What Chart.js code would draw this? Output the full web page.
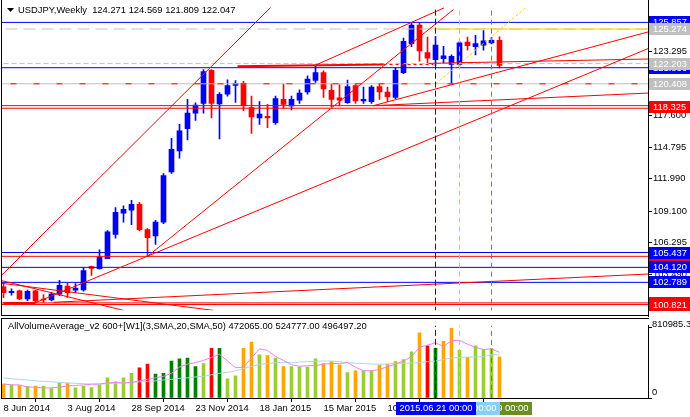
<!DOCTYPE html>
<html>
<head>
<meta charset="utf-8">
<title>USDJPY Weekly</title>
<script src="https://cdn.jsdelivr.net/npm/chart.js@4.4.1/dist/chart.umd.min.js"></script>
<style>
  html, body { margin: 0; padding: 0; background: #fff; overflow: hidden; }
  canvas { position: absolute; left: 0; display: block; }
  #mainChart { top: 0; }
  #volChart { top: 317px; }
</style>
</head>
<body>
<canvas id="mainChart" width="690" height="317"></canvas>
<canvas id="volChart" width="690" height="100"></canvas>
<script>
// weekly bars, index 0 = 8 Jun 2014 ... index 62 = 16 Aug 2015
const opens = [102.39, 101.88, 102.03, 101.31, 102.03, 101.31, 101.22, 101.74, 102.46, 102.09,
    102.12, 104.18, 104.00, 104.89, 107.05, 108.92, 109.20, 109.72, 107.47, 106.90,
    108.14, 112.59, 114.45, 116.43, 117.81, 118.67, 121.60, 118.62, 119.48, 120.26,
    120.45, 118.30, 117.38, 117.53, 116.95, 119.02, 118.45, 118.96, 119.68, 120.70,
    121.40, 119.82, 119.16, 118.73, 120.26, 118.90, 118.82, 120.17, 119.68, 119.19,
    121.40, 123.98, 125.62, 123.18, 122.55, 122.63, 122.12, 122.12, 124.10, 123.70,
    123.84, 124.04, 124.271];
const highs = [102.72, 102.22, 102.11, 102.11, 102.09, 101.71, 101.88, 102.97, 102.72, 102.69,
    104.10, 104.24, 105.67, 107.39, 109.43, 109.58, 110.06, 109.90, 107.56, 108.29,
    112.45, 115.57, 116.81, 119.02, 118.73, 121.68, 121.68, 119.62, 120.77, 120.69,
    120.62, 119.31, 118.82, 118.58, 119.31, 120.39, 119.31, 119.88, 121.12, 122.06,
    121.55, 120.39, 120.34, 120.74, 120.45, 120.11, 120.26, 120.39, 120.11, 121.83,
    124.47, 125.85, 125.79, 124.56, 124.59, 123.73, 122.98, 124.18, 124.56, 124.70,
    125.13, 124.50, 124.569];
const lows = [101.42, 101.66, 101.25, 101.16, 101.02, 100.99, 101.14, 101.60, 101.45, 101.88,
    102.00, 103.40, 103.95, 104.89, 106.70, 108.14, 107.90, 107.35, 105.10, 106.16,
    108.00, 112.45, 113.80, 115.43, 117.16, 117.81, 117.38, 115.52, 119.31, 118.76,
    118.02, 116.00, 116.81, 116.52, 116.81, 118.24, 118.10, 118.67, 119.48, 120.54,
    119.19, 118.39, 118.45, 118.67, 118.67, 118.67, 118.67, 119.02, 118.82, 119.10,
    121.30, 123.70, 122.41, 122.26, 122.00, 122.26, 120.39, 122.00, 123.40, 122.98,
    123.40, 123.95, 121.809];
const closes = [101.88, 102.00, 101.31, 102.00, 101.14, 101.22, 101.74, 102.52, 101.88, 102.28,
    103.84, 104.03, 105.04, 107.28, 109.00, 109.26, 109.72, 107.47, 106.76, 108.14,
    112.27, 114.60, 116.23, 117.81, 118.53, 121.49, 118.67, 119.48, 120.26, 120.45,
    118.47, 117.47, 117.72, 117.38, 119.10, 118.58, 119.02, 119.59, 120.82, 121.40,
    119.96, 119.02, 118.96, 120.17, 118.88, 119.02, 120.11, 119.68, 119.25, 121.60,
    124.18, 125.62, 123.32, 122.69, 123.84, 122.89, 122.84, 124.04, 123.79, 123.98,
    124.22, 124.27, 122.047];

// volume panel
const volumes = [161000, 151000, 144000, 133000, 137000, 137000, 109000, 172000, 172000, 116000,
    137000, 119000, 151000, 232000, 186000, 232000, 284000, 348000, 390000, 274000,
    284000, 424000, 449000, 460000, 361000, 397000, 572000, 572000, 221000, 256000,
    572000, 642000, 495000, 488000, 460000, 361000, 361000, 355000, 355000, 449000,
    397000, 418000, 380000, 292000, 313000, 313000, 313000, 379000, 390000, 418000,
    442000, 530000, 748000, 600000, 572000, 653000, 800000, 548000, 467000, 600000,
    558000, 572000, 472065];
// o = down, g = up, r = high volume down, d = high volume up
const volKinds = ['o','g','o','g','o','g','g','g','o','g', 'g','g','g','g','g','g','g','r','r','d',
    'd','d','d','d','d','g','r','d','g','g', 'o','o','g','o','g','o','g','g','g','g',
    'o','o','o','g','o','g','g','o','o','g', 'g','g','o','r','d','o','o','g','o','g',
    'g','g','o'];
const maFast = [161000, 151000, 151000, 126000, 123000, 116000, 116000, 126000, 137000, 144000,
    151000, 158000, 161000, 172000, 179000, 172000, 179000, 197000, 214000, 232000,
    249000, 284000, 355000, 390000, 407000, 432000, 467000, 502000, 425000, 348000,
    355000, 460000, 565000, 548000, 477000, 432000, 382000, 365000, 372000, 372000,
    390000, 397000, 397000, 407000, 355000, 313000, 313000, 327000, 361000, 390000,
    425000, 477000, 583000, 608000, 635000, 593000, 660000, 663000, 618000, 583000,
    558000, 565000, 524777];
const maSlow = [232000, 221000, 214000, 207000, 197000, 190000, 186000, 179000, 172000, 169000,
    165000, 161000, 161000, 165000, 172000, 172000, 179000, 186000, 190000, 197000,
    207000, 214000, 225000, 232000, 242000, 249000, 267000, 284000, 295000, 313000,
    337000, 365000, 383000, 397000, 407000, 407000, 407000, 414000, 418000, 425000,
    425000, 425000, 418000, 407000, 400000, 397000, 390000, 390000, 390000, 397000,
    400000, 400000, 407000, 418000, 425000, 442000, 460000, 467000, 470000, 470000,
    477000, 495000, 496497];

// axis ticks
const priceTicks = [123.295, 117.600, 114.795, 111.990, 109.100, 106.295, 103.490];
const dateTickIdx = [0, 8, 16, 24, 32, 40, 48, 56];
const dateTickLabels = ['8 Jun 2014', '3 Aug 2014', '28 Sep 2014', '23 Nov 2014',
    '18 Jan 2015', '15 Mar 2015', '10 May 2015', '5 Jul 2015'];

// chart objects: horizontal levels (price) and trend lines [week, price, week, price]
const blueLevels = [125.857, 121.836, 105.437, 104.120, 102.789];
const redLevels = [118.47, 118.24, 105.100, 100.966, 100.821];
const greyDashLevels = [125.274, 122.203];
const greyLevel = 120.408;
const trendLines = [
    [-0.375, 103.32, 33.375, 127.17],
    [4, 100.99, 80.625, 123.55],
    [18, 105.10, 56.25, 127.00],
    [39, 122.06, 55.04, 127.14],
    [46.25, 118.47, 80.625, 119.59],
    [46.25, 118.47, 80.625, 125.02],
    [53.125, 122.22, 80.625, 122.61],
    [-0.375, 102.97, 15, 100.30],
    [-0.375, 102.72, 26.25, 100.30],
    [6.25, 101.02, 80.625, 103.53]
];
const boldRedLines = [[29.25, 121.96, 47.5, 122.12], [0, 100.95, 4, 100.95]];
const dashRedLine = [47.5, 122.12, 53.75, 122.12];
const goldLevel = [53.75, 125.274, 83, 125.274];
const goldRay = [54, 120.40, 65.25, 127.14];
const markerWeeks = [54, 57, 61];
const markerLabels = ['2015.06.21 00:00', '2015.07.12 00:00', '2015.08.09 00:00'];

// right axis price boxes
const redBoxPrices = [105.100, 100.966, 100.821, 118.325];
const blueBoxPrices = [121.836, 125.857, 105.437, 104.120, 102.789];
const greyBoxPrices = [125.274, 122.203, 120.408];

const titleText = 'USDJPY,Weekly  124.271 124.569 121.809 122.047';
const volTitle = 'AllVolumeAverage_v2 600+[W1](3,SMA,20,SMA,50) 472065.00 524777.00 496497.20';
const volMaxLabel = '810985.30';

const FAMILY = '"Liberation Sans", Arial, sans-serif';
const FSIZE = 9.4;
Chart.defaults.font.family = FAMILY;
Chart.defaults.font.size = FSIZE;
Chart.defaults.color = '#000';

const X_MIN = -0.1875, X_MAX = 80.5625;
const P_MIN = 100.304, P_MAX = 127.256;
const V_MAX = 832000;

const BLUE = '#0000FF', RED = '#FF0000', GREY = '#C0C0C0', GOLD = '#FFCC00';
const volColorMap = { o: '#FFA500', g: '#9ACD32', r: '#FF0000', d: '#008000' };
const markerColors = [BLUE, '#87CEFA', '#6B8E23'];

function seg(a, color, width, dash, order) {
    return {
        type: 'line',
        data: [{ x: a[0], y: a[1] }, { x: a[2], y: a[3] }],
        borderColor: color,
        borderWidth: width || 1,
        borderDash: dash || [],
        pointRadius: 0,
        fill: false,
        order: order
    };
}
function hline(p, color, dash, order) {
    return seg([-2, p, 83, p], color, 1, dash, order);
}

const isUp = closes.map((c, i) => c >= opens[i]);
const candleColor = ctx => isUp[ctx.dataIndex] ? BLUE : RED;

const mainDatasets = [
    {
        type: 'bar',
        data: opens.map((o, i) => ({ x: i, y: [lows[i], highs[i]] })),
        backgroundColor: candleColor,
        barThickness: 1,
        grouped: false,
        order: 100
    },
    {
        type: 'bar',
        data: opens.map((o, i) => ({ x: i, y: [o, closes[i]] })),
        backgroundColor: candleColor,
        barThickness: 5,
        minBarLength: 1,
        grouped: false,
        order: 99
    },
    ...greyDashLevels.map((p, k) => hline(p, GREY, k === 0 ? [12, 6] : [5, 3], 60)),
    hline(greyLevel, GREY, [], 60),
    hline(greyLevel, RED, [6, 17], 55),
    ...blueLevels.map(p => hline(p, BLUE, [], 50)),
    ...redLevels.map(p => hline(p, RED, [], 50)),
    ...trendLines.map(t => seg(t, RED, 1, [], 40)),
    ...boldRedLines.map(t => seg(t, RED, 2, [], 40)),
    seg(dashRedLine, RED, 1, [3, 3], 40),
    seg(goldLevel, GOLD, 1, [], 20),
    seg(goldRay, GOLD, 1, [3, 2], 20),
    ...markerWeeks.map((w, k) => seg([w, P_MIN - 1, w, P_MAX + 1], markerColors[k], 1, k === 0 ? [6, 3] : [5, 4], 10))
];

const mainOverlay = {
    id: 'mainOverlay',
    afterDraw(chart) {
        const ctx = chart.ctx;
        const ys = chart.scales.y;
        ctx.save();
        ctx.fillStyle = '#000';
        ctx.fillRect(1, 0, 1, 316);
        ctx.fillRect(1, 315, 648, 1);
        ctx.fillRect(648, 0, 1, 317);

        ctx.font = FSIZE + 'px ' + FAMILY;
        ctx.textAlign = 'left';
        ctx.textBaseline = 'middle';
        ctx.fillText(titleText, 18, 10.5);
        ctx.beginPath();
        ctx.moveTo(7, 8);
        ctx.lineTo(14, 8);
        ctx.lineTo(10.5, 12);
        ctx.closePath();
        ctx.fill();

        const box = (p, bg) => {
            const py = Math.round(ys.getPixelForValue(p));
            ctx.fillStyle = bg;
            ctx.fillRect(649, py - 6, 41, 12);
            ctx.fillStyle = '#fff';
            ctx.fillText(p.toFixed(3), 653, py + 0.5);
        };
        redBoxPrices.forEach(p => box(p, RED));
        blueBoxPrices.forEach(p => box(p, BLUE));
        greyBoxPrices.forEach(p => box(p, GREY));
        ctx.restore();
    }
};

new Chart(document.getElementById('mainChart'), {
    type: 'bar',
    data: { datasets: mainDatasets },
    options: {
        responsive: false,
        animation: false,
        events: [],
        layout: { padding: { left: 2, top: 2, right: 0, bottom: 2 } },
        plugins: { legend: { display: false }, tooltip: { enabled: false } },
        scales: {
            x: { type: 'linear', min: X_MIN, max: X_MAX, offset: false, display: false },
            y: {
                position: 'right',
                min: P_MIN,
                max: P_MAX,
                afterFit: s => { s.width = 42; },
                afterBuildTicks: s => { s.ticks = priceTicks.map(v => ({ value: v })); },
                ticks: { padding: 1, callback: v => v.toFixed(3) },
                grid: { drawOnChartArea: false, drawTicks: true, tickLength: 4, color: '#000' },
                border: { display: true, color: '#000' }
            }
        }
    },
    plugins: [mainOverlay]
});

// Volume panel
const volOverlay = {
    id: 'volOverlay',
    afterDraw(chart) {
        const ctx = chart.ctx;
        const xs = chart.scales.x;
        ctx.save();
        ctx.fillStyle = '#000';
        ctx.fillRect(1, 1, 648, 1);
        ctx.fillRect(1, 1, 1, 81);
        ctx.font = FSIZE + 'px ' + FAMILY;
        ctx.textAlign = 'left';
        ctx.textBaseline = 'middle';
        ctx.fillText(volTitle, 8, 9.5);
        ctx.fillText(volMaxLabel, 652, 7.5);
        ctx.fillText('0', 652, 75.5);

        ctx.textAlign = 'center';
        for (let k = markerWeeks.length - 1; k >= 0; k--) {
            const px = Math.round(xs.getPixelForValue(markerWeeks[k]));
            ctx.fillStyle = markerColors[k];
            ctx.fillRect(px - 40, 85, 80, 13);
            ctx.fillStyle = '#fff';
            ctx.fillText(markerLabels[k], px, 91.5);
        }
        ctx.restore();
    }
};

new Chart(document.getElementById('volChart'), {
    type: 'bar',
    data: {
        datasets: [
            {
                type: 'bar',
                data: volumes.map((v, i) => ({ x: i, y: v })),
                backgroundColor: volKinds.map(k => volColorMap[k]),
                barThickness: 3,
                grouped: false,
                order: 50
            },
            {
                type: 'line',
                data: maFast.map((v, i) => ({ x: i, y: v })),
                borderColor: '#EE82EE',
                borderWidth: 1,
                pointRadius: 0,
                order: 20
            },
            {
                type: 'line',
                data: maSlow.map((v, i) => ({ x: i, y: v })),
                borderColor: '#ADD8E6',
                borderWidth: 1,
                pointRadius: 0,
                order: 21
            },
            ...markerWeeks.map((w, k) => seg([w, -10000, w, V_MAX + 10000], markerColors[k], 1, k === 0 ? [6, 3] : [5, 4], 10))
        ]
    },
    options: {
        responsive: false,
        animation: false,
        events: [],
        layout: { padding: { left: 2, top: 2, right: 0, bottom: 0 } },
        plugins: { legend: { display: false }, tooltip: { enabled: false } },
        scales: {
            x: {
                type: 'linear',
                min: X_MIN,
                max: X_MAX,
                offset: false,
                afterFit: s => { s.height = 19; },
                afterBuildTicks: s => { s.ticks = dateTickIdx.map(v => ({ value: v })); },
                ticks: {
                    autoSkip: false,
                    maxRotation: 0,
                    minRotation: 0,
                    align: 'start',
                    padding: 1,
                    callback: v => {
                        const k = dateTickIdx.indexOf(v);
                        return k >= 0 ? dateTickLabels[k] : '';
                    }
                },
                grid: { drawOnChartArea: false, drawTicks: true, tickLength: 4, color: '#000' },
                border: { display: true, color: '#000' }
            },
            y: {
                position: 'right',
                min: 0,
                max: V_MAX,
                afterFit: s => { s.width = 42; },
                afterBuildTicks: s => { s.ticks = [{ value: 0 }, { value: 810985.3 }]; },
                ticks: { callback: () => '' },
                grid: { drawOnChartArea: false, drawTicks: true, tickLength: 4, color: '#000' },
                border: { display: true, color: '#000' }
            }
        }
    },
    plugins: [volOverlay]
});
</script>
</body>
</html>
